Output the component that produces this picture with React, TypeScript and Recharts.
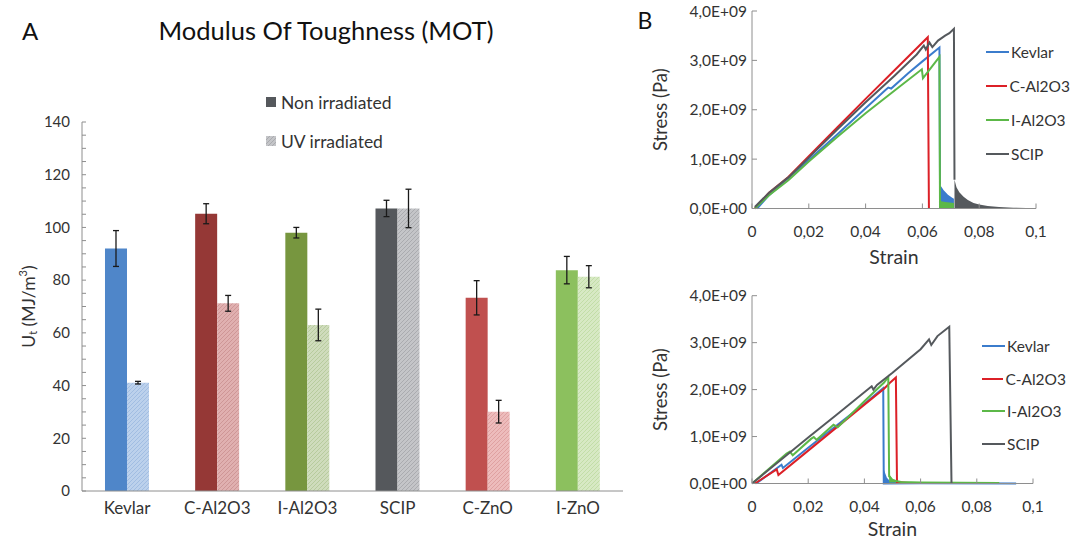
import React from 'react';
import { BarChart, Bar, XAxis, YAxis, Cell, ErrorBar, Legend, ComposedChart, Line, Area } from 'recharts';

const FONT = 'Lato, "DejaVu Sans", sans-serif';
const TEXT = '#333';
const AXIS = '#8e8e8e';

// ---------- panel A: modulus of toughness ----------
const categories = ['Kevlar', 'C-Al2O3', 'I-Al2O3', 'SCIP', 'C-ZnO', 'I-ZnO'];
const nonIrradiated = [92, 105.2, 98, 107.2, 73.3, 83.8];
const nonIrradiatedErr = [6.8, 3.8, 2, 3.1, 6.5, 5.2];
const uvIrradiated = [41.1, 71.2, 63, 107.2, 30.1, 81.3];
const uvIrradiatedErr = [0.5, 3, 6, 7.3, 4.3, 4.2];

const darkColors = ['#4f86c9', '#953836', '#77963f', '#55585c', '#c0504f', '#8cc05e'];
const lightColors = ['#bcd1ec', '#e0b0b0', '#cfdcbc', '#c4c5c8', '#edbcbc', '#d7e9c4'];
const hatchColors = ['#9ab8e0', '#c98f8f', '#b1c795', '#a3a4a8', '#dc9b9b', '#bcd99f'];

const barTicks = [0, 5, 10, 15, 20, 25, 30, 35, 40, 45, 50, 55, 60, 65, 70, 75, 80, 85, 90, 95, 100, 105, 110, 115, 120, 125, 130, 135, 140];
const barLegend = [
  { label: 'Non irradiated', fill: '#55585c' },
  { label: 'UV irradiated', fill: 'url(#hatch3)' },
];

// ---------- panel B: stress-strain curves, [strain, stress in 1E9 Pa] ----------
type Pt = [number, number];

const topKevlar: Pt[] = [[0.0018, 0], [0.006, 0.27], [0.012, 0.58], [0.02, 0.98], [0.03, 1.5], [0.04, 2.03], [0.047, 2.4], [0.048, 2.45], [0.049, 2.43], [0.055, 2.74], [0.06, 2.98], [0.066, 3.26], [0.0662, 0.48]];
const topCAl2O3: Pt[] = [[0.001, 0], [0.006, 0.32], [0.0128, 0.64], [0.02, 1.06], [0.03, 1.64], [0.04, 2.22], [0.05, 2.79], [0.0619, 3.47], [0.0623, 0]];
const topIAl2O3: Pt[] = [[0.001, 0], [0.006, 0.27], [0.0128, 0.57], [0.02, 0.95], [0.03, 1.45], [0.04, 1.93], [0.05, 2.38], [0.0598, 2.82], [0.0602, 2.64], [0.063, 2.85], [0.066, 3.07], [0.0662, 0]];
const topSCIP: Pt[] = [[0.001, 0.03], [0.006, 0.32], [0.0128, 0.63], [0.02, 1.03], [0.03, 1.6], [0.04, 2.15], [0.05, 2.68], [0.058, 3.12], [0.0605, 3.3], [0.0612, 3.22], [0.0625, 3.36], [0.0635, 3.27], [0.0655, 3.4], [0.068, 3.5], [0.0695, 3.55], [0.0711, 3.64], [0.0713, 0.58]];
const topKevlarTail: Pt[] = [[0.0662, 0.48], [0.0675, 0.37], [0.069, 0.28], [0.0705, 0.22], [0.0711, 0.2]];
const topIAl2O3Tail: Pt[] = [[0.0662, 0.15], [0.068, 0.13], [0.0711, 0.11]];
const topSCIPTail: Pt[] = [[0.0713, 0.58], [0.072, 0.43], [0.073, 0.33], [0.0745, 0.24], [0.076, 0.17], [0.078, 0.11], [0.08, 0.08], [0.083, 0.05], [0.087, 0.03], [0.092, 0.015], [0.1, 0.005]];

const botKevlar: Pt[] = [[0.0015, 0], [0.0105, 0.4], [0.011, 0.33], [0.02, 0.76], [0.03, 1.23], [0.04, 1.7], [0.0467, 2.03], [0.0469, 0], [0.06, 0.005], [0.094, 0]];
const botCAl2O3: Pt[] = [[0.001, 0], [0.0088, 0.3], [0.0094, 0.18], [0.02, 0.7], [0.03, 1.19], [0.04, 1.68], [0.047, 2.02], [0.049, 2.14], [0.0512, 2.26], [0.0516, 0.03], [0.056, 0.01]];
const botIAl2O3: Pt[] = [[0, 0], [0.0123, 0.64], [0.0135, 0.68], [0.0145, 0.6], [0.021, 0.95], [0.022, 0.99], [0.023, 0.93], [0.028, 1.2], [0.029, 1.25], [0.0305, 1.2], [0.04, 1.75], [0.047, 2.15], [0.0485, 2.27], [0.0488, 0.15], [0.05, 0.07], [0.053, 0.03], [0.06, 0.02], [0.088, 0.01]];
const botSCIP: Pt[] = [[0, 0], [0.01, 0.49], [0.02, 0.98], [0.03, 1.46], [0.0426, 2.07], [0.0432, 2.0], [0.0445, 2.1], [0.05, 2.36], [0.06, 2.86], [0.063, 3.07], [0.0638, 2.95], [0.066, 3.14], [0.0702, 3.34], [0.071, 0]];
const botKevlarTail: Pt[] = [[0.0469, 0.3], [0.0475, 0.2], [0.048, 0.12], [0.049, 0.06], [0.05, 0.02]];
const botIAl2O3Tail: Pt[] = [[0.0488, 0.2], [0.05, 0.1], [0.052, 0.05], [0.055, 0.02]];

const seriesNames = ['Kevlar', 'C-Al2O3', 'I-Al2O3', 'SCIP'];
const lineColors = ['#3b7ccc', '#dc2027', '#5cb848', '#55595d'];

const strainTicks = [0, 0.02, 0.04, 0.06, 0.08, 0.1];
const stressTicks = [0, 1e9, 2e9, 3e9, 4e9];

const toRows = (pts: Pt[]) => pts.map(([x, y]) => ({ x, y: y * 1e9 }));
const stressTick = (v: number) => (v === 0 ? '0,0E+00' : `${(v / 1e9).toFixed(1).replace('.', ',')}E+09`);
const strainTick = (v: number) => String(Number(v.toFixed(2))).replace('.', ',');

const tickStyle = { fill: TEXT, fontSize: 15.5, fontFamily: FONT };

const RotatedLabel = (cx: number, size: number, children: React.ReactNode) => (props: any) => {
  const vb = props.viewBox || {};
  const cy = vb.y + vb.height / 2;
  return (
    <text x={cx} y={cy} transform={`rotate(-90 ${cx} ${cy})`} textAnchor="middle" dominantBaseline="central"
      fontSize={size} fontFamily={FONT} fill={TEXT}>
      {children}
    </text>
  );
};

const LineLegend = (rowH: number) => () => (
  <div style={{ fontFamily: FONT }}>
    {seriesNames.map((n, i) => (
      <div key={n} style={{ display: 'flex', alignItems: 'center', height: rowH, whiteSpace: 'nowrap' }}>
        <span style={{ width: 23, height: 2, background: lineColors[i], marginRight: 2 }} />
        <span style={{ fontSize: 15.5, color: TEXT }}>{n}</span>
      </div>
    ))}
  </div>
);

interface StressProps {
  lines: Pt[][];
  tails: { pts: Pt[]; color: string }[];
  height: number;
  margin: { top: number; right: number; bottom: number; left: number };
  xAxisHeight: number;
  legendLeft: number;
  legendTop: number;
  rowH: number;
}

const StressStrain: React.FC<StressProps> = ({ lines, tails, height, margin, xAxisHeight, legendLeft, legendTop, rowH }) => (
  <ComposedChart width={432} height={height} margin={margin}>
    <XAxis dataKey="x" type="number" domain={[0, 0.1]} ticks={strainTicks} allowDataOverflow interval={0}
      tickFormatter={strainTick} tickSize={-5} tickMargin={22} stroke={AXIS} tick={tickStyle} height={xAxisHeight}
      label={{ value: 'Strain', position: 'insideBottom', offset: 0, fill: TEXT, fontSize: 19.5, fontFamily: FONT }} />
    <YAxis type="number" domain={[0, 4e9]} ticks={stressTicks} interval={0} tickFormatter={stressTick}
      tickSize={-5} tickMargin={10} width={60} stroke={AXIS} tick={tickStyle}
      label={RotatedLabel(20, 18.5, 'Stress (Pa)')} />
    {tails.map((t, i) => (
      <Area key={`tail-${i}`} data={toRows(t.pts)} dataKey="y" type="linear" stroke="none" fill={t.color}
        fillOpacity={1} isAnimationActive={false} legendType="none" />
    ))}
    {lines.map((pts, i) => (
      <Line key={seriesNames[i]} name={seriesNames[i]} data={toRows(pts)} dataKey="y" type="linear"
        stroke={lineColors[i]} strokeWidth={2} dot={false} isAnimationActive={false} />
    ))}
    <Legend layout="vertical" align="center" verticalAlign="middle" content={LineLegend(rowH)}
      wrapperStyle={{ left: legendLeft, top: legendTop, width: 84 }} />
  </ComposedChart>
);

export default function App() {
  const barData = categories.map((name, i) => ({
    name,
    non: nonIrradiated[i],
    nonErr: nonIrradiatedErr[i],
    uv: uvIrradiated[i],
    uvErr: uvIrradiatedErr[i],
  }));

  return (
    <div style={{ position: 'absolute', left: 0, top: 0, width: 1072, height: 539, background: '#fff', fontFamily: FONT, overflow: 'hidden' }}>
      <svg width={0} height={0} style={{ position: 'absolute' }}>
        <defs>
          {lightColors.map((c, i) => (
            <pattern key={i} id={`hatch${i}`} width={4} height={4} patternUnits="userSpaceOnUse">
              <rect width={4} height={4} fill={c} />
              <path d="M-1,1 l2,-2 M0,4 l4,-4 M3,5 l2,-2" stroke={hatchColors[i]} strokeWidth={0.8} />
            </pattern>
          ))}
        </defs>
      </svg>

      <div style={{ position: 'absolute', left: 0, top: 0 }}>
        <BarChart width={640} height={539} data={barData} margin={{ top: 122, right: 17, bottom: 18, left: 22 }}
          barCategoryGap="25.5%" barGap={0}>
          <XAxis dataKey="name" stroke={AXIS} tickLine={false} tickSize={0} tickMargin={11} height={30}
            tick={{ fill: TEXT, fontSize: 17, fontFamily: FONT }} interval={0} />
          <YAxis domain={[0, 140]} ticks={barTicks} interval={0} stroke={AXIS} width={60} tickSize={-4} tickMargin={16}
            tickFormatter={(v: number) => (v % 20 === 0 ? String(v) : '')}
            tick={{ fill: TEXT, fontSize: 15, fontFamily: FONT }}
            label={RotatedLabel(28, 17.5, [
              <tspan key="u">U</tspan>,
              <tspan key="t" dy={4} fontSize={11}>t</tspan>,
              <tspan key="m" dy={-4}> (MJ/m</tspan>,
              <tspan key="3" dy={-6} fontSize={11}>3</tspan>,
              <tspan key="p" dy={6}>)</tspan>,
            ])} />
          <Bar dataKey="non" isAnimationActive={false}>
            {barData.map((d, i) => <Cell key={`n-${d.name}`} fill={darkColors[i]} />)}
            <ErrorBar dataKey="nonErr" width={3} strokeWidth={1.3} stroke="#1a1a1a" direction="y" />
          </Bar>
          <Bar dataKey="uv" isAnimationActive={false}>
            {barData.map((d, i) => <Cell key={`u-${d.name}`} fill={`url(#hatch${i})`} />)}
            <ErrorBar dataKey="uvErr" width={3} strokeWidth={1.3} stroke="#1a1a1a" direction="y" />
          </Bar>
          <Legend layout="vertical" align="center" verticalAlign="middle"
            wrapperStyle={{ left: 266, top: 82.5, width: 160 }}
            content={() => (
              <div style={{ fontFamily: FONT }}>
                {barLegend.map((l) => (
                  <div key={l.label} style={{ display: 'flex', alignItems: 'center', height: 39 }}>
                    <svg width={10} height={10} style={{ marginRight: 5 }}>
                      <rect width={10} height={10} fill={l.fill} />
                    </svg>
                    <span style={{ fontSize: 17.5, color: TEXT }}>{l.label}</span>
                  </div>
                ))}
              </div>
            )} />
        </BarChart>
      </div>

      <div style={{ position: 'absolute', left: 640, top: 0 }}>
        <StressStrain
          lines={[topKevlar, topCAl2O3, topIAl2O3, topSCIP]}
          tails={[
            { pts: topSCIPTail, color: lineColors[3] },
            { pts: topKevlarTail, color: lineColors[0] },
            { pts: topIAl2O3Tail, color: lineColors[2] },
          ]}
          height={270}
          margin={{ top: 11, right: 36, bottom: 6.5, left: 52 }}
          xAxisHeight={55}
          legendLeft={346}
          legendTop={35}
          rowH={34}
        />
      </div>

      <div style={{ position: 'absolute', left: 640, top: 270 }}>
        <StressStrain
          lines={[botKevlar, botCAl2O3, botIAl2O3, botSCIP]}
          tails={[
            { pts: botKevlarTail, color: lineColors[0] },
            { pts: botIAl2O3Tail, color: lineColors[2] },
          ]}
          height={269}
          margin={{ top: 25.7, right: 39, bottom: 3.5, left: 52 }}
          xAxisHeight={52}
          legendLeft={342}
          legendTop={59.75}
          rowH={32.5}
        />
      </div>

      <svg width={1072} height={539} style={{ position: 'absolute', left: 0, top: 0, pointerEvents: 'none' }}>
        <text x={30} y={30} textAnchor="middle" dominantBaseline="central" fontSize={24} fontFamily={FONT} fill="#111">A</text>
        <text x={326} y={30} textAnchor="middle" dominantBaseline="central" fontSize={25.5} fontFamily={FONT} fill="#111">
          Modulus Of Toughness (MOT)
        </text>
        <text x={645} y={20} textAnchor="middle" dominantBaseline="central" fontSize={23} fontFamily={FONT} fill="#111">B</text>
      </svg>
    </div>
  );
}
